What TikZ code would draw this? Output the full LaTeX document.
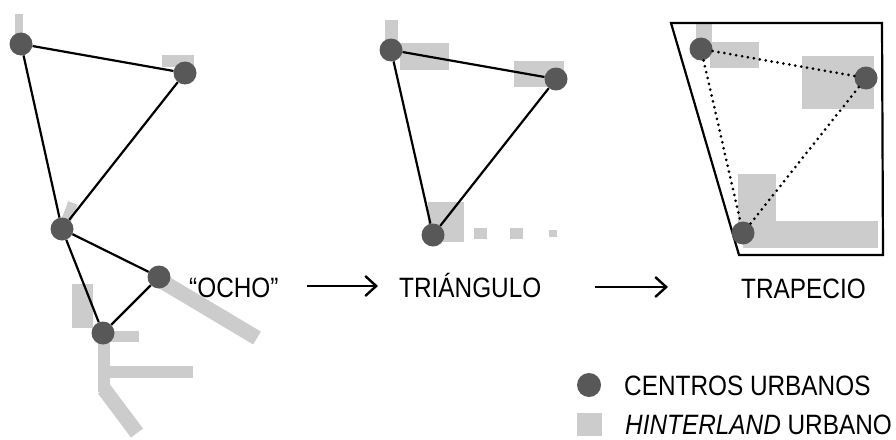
\documentclass[tikz,border=0pt]{standalone}
\usepackage{fontspec}
\newfontfamily\lab{Liberation Sans}[FakeStretch=0.87]
\usetikzlibrary{arrows.meta}
\definecolor{citygray}{RGB}{88,88,88}
\definecolor{hgray}{RGB}{204,204,204}
\begin{document}
\begin{tikzpicture}[x=1pt,y=-1pt,
  city/.style={circle,fill=citygray,minimum size=23pt,inner sep=0pt},
  hinter/.style={fill=hgray},
  hbar/.style={draw=hgray,line width=15pt},
  link/.style={line width=2.2pt,black},
  dotlink/.style={line width=3pt,line cap=round,dash pattern=on 0pt off 6pt},
  flow/.style={line width=2.4pt,-{Straight Barb[length=11pt,width=20pt]}},
  lbl/.style={inner sep=0pt,anchor=base west,font=\lab\fontsize{28}{30}\selectfont}]
\useasboundingbox (0,0) rectangle (896,439);
% ---------- hinterland, left ----------
\fill[hinter] (15,14) rectangle (23,44);
\fill[hinter] (162,55) rectangle (194,67);
\draw[hbar,line width=10pt] (64,226) -- (73,203);
\draw[hbar] (158,279) -- (257,338);
\fill[hinter] (72,284) rectangle (93,328);
\fill[hinter] (103,331) rectangle (139,342);
\fill[hinter] (98,333) rectangle (110,392);
\fill[hinter] (110,366) rectangle (193,378);
\draw[hbar] (104,389) -- (137,433);
% ---------- hinterland, middle ----------
\fill[hinter] (385,20) rectangle (398,50);
\fill[hinter] (400,43) rectangle (449,70);
\fill[hinter] (514,61) rectangle (564,87);
\fill[hinter] (428,202) rectangle (464,242);
\fill[hinter] (474,228) rectangle (487,239);
\fill[hinter] (510,228) rectangle (523,239);
\fill[hinter] (549,230) rectangle (557,237);
% ---------- hinterland, right ----------
\fill[hinter] (696,23) rectangle (712,49);
\fill[hinter] (710,42) rectangle (759,68);
\fill[hinter] (802,56) rectangle (874,109);
\fill[hinter] (738,174) rectangle (776,233);
\fill[hinter] (743,221) rectangle (878,248);
% ---------- trapezoid ----------
\coordinate (t1) at (671,23);
\coordinate (t2) at (882,23);
\coordinate (t3) at (883,255);
\coordinate (t4) at (739,255);
\draw[line width=2.2pt] (t1) -- (t2) -- (t3) -- (t4) -- cycle;
% ---------- cities ----------
\node[city] (A) at (21,44) {};
\node[city] (B) at (185,73) {};
\node[city] (C) at (62,229) {};
\node[city] (D) at (159,277) {};
\node[city] (E) at (103,333) {};
\node[city] (F) at (391,50) {};
\node[city] (G) at (556,79) {};
\node[city] (H) at (433,235) {};
\node[city] (I) at (701,49) {};
\node[city] (J) at (866,78) {};
\node[city] (K) at (743,233) {};
% ---------- links ----------
\draw[link] (A) -- (B);
\draw[link] (A) -- (C);
\draw[link] (B) -- (C);
\draw[link] (C) -- (D);
\draw[link] (C) -- (E);
\draw[link] (D) -- (E);
\draw[link] (F) -- (G);
\draw[link] (F) -- (H);
\draw[link] (G) -- (H);
\draw[dotlink] (I) -- (J);
\draw[dotlink] (J) -- (K);
\draw[dotlink] (I) -- (K);
% ---------- labels and arrows ----------
\node[lbl] (ocho) at (189,297) {“OCHO”};
\node[lbl] (tri) at (399,297) {TRIÁNGULO};
\node[lbl] (trap) at (741,298) {TRAPECIO};
\coordinate (a1s) at (307,286);
\coordinate (a1e) at (378,286);
\coordinate (a2s) at (595,287);
\coordinate (a2e) at (668,287);
\draw[flow] (a1s) -- (a1e);
\draw[flow] (a2s) -- (a2e);
% ---------- legend ----------
\node[city,minimum size=24pt] (legc) at (589,385) {};
\node[fill=hgray,minimum width=25pt,minimum height=23pt,inner sep=0pt] (legh) at (589.5,424.5) {};
\node[lbl] (legct) at (624,395) {CENTROS URBANOS};
\node[lbl] (leght) at (625,434) {{\itshape HINTERLAND} URBANO};
\end{tikzpicture}
\end{document}
